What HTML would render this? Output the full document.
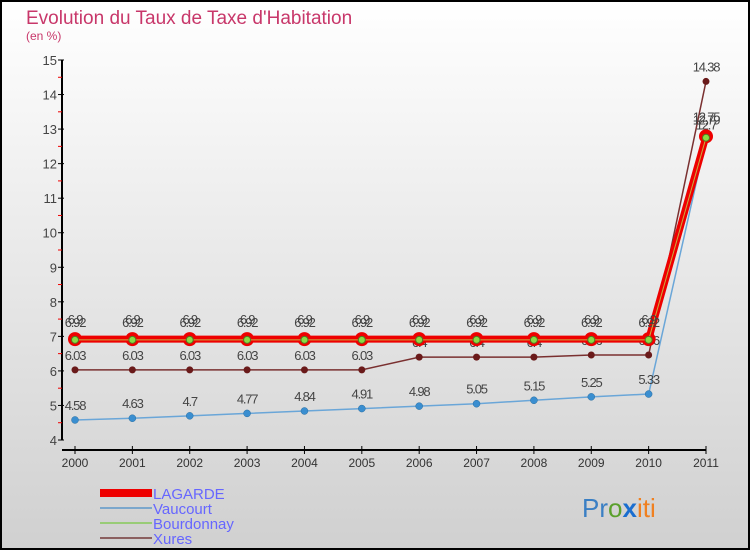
<!DOCTYPE html>
<html><head><meta charset="utf-8"><style>
body{margin:0;}
svg{display:block;font-family:"Liberation Sans",sans-serif;}
</style></head><body>
<svg id="c" width="750" height="550">
<defs><linearGradient id="bg" x1="0" y1="0" x2="0" y2="1"><stop offset="0" stop-color="#ffffff"/><stop offset="1" stop-color="#d0d0d0"/></linearGradient></defs>
<rect x="1" y="1" width="748" height="548" fill="url(#bg)" stroke="#000" stroke-width="2"/>
<text x="26" y="24" font-size="19" fill="#c8376a">Evolution du Taux de Taxe d'Habitation</text>
<text x="26" y="40" font-size="12" fill="#c8376a">(en %)</text>
<g id="axes"></g><g id="series"></g>
<g>
<rect x="100" y="489" width="52" height="8" fill="#e00"/>
<text x="153" y="499" font-size="15" fill="#6666ff">LAGARDE</text>
<line x1="100" y1="508" x2="152" y2="508" stroke="#7ba7cc" stroke-width="2"/>
<text x="153" y="514" font-size="15" fill="#6666ff">Vaucourt</text>
<line x1="100" y1="523" x2="152" y2="523" stroke="#99cc77" stroke-width="2"/>
<text x="153" y="529" font-size="15" fill="#6666ff">Bourdonnay</text>
<line x1="100" y1="538" x2="152" y2="538" stroke="#8b6060" stroke-width="2"/>
<text x="153" y="544" font-size="15" fill="#6666ff">Xures</text>
</g>
<text x="582" y="517" font-size="26"><tspan fill="#3a7fc4">Pr</tspan><tspan fill="#5aa02c">o</tspan><tspan fill="#1a6ed0" font-weight="bold">x</tspan><tspan fill="#f08020">iti</tspan></text>
</svg>
<script>
const years=[2000,2001,2002,2003,2004,2005,2006,2007,2008,2009,2010,2011];
const yTicks=[4,5,6,7,8,9,10,11,12,13,14,15];
const lagarde=[6.92,6.92,6.92,6.92,6.92,6.92,6.92,6.92,6.92,6.92,6.92,12.79];
const vaucourt=[4.58,4.63,4.7,4.77,4.84,4.91,4.98,5.05,5.15,5.25,5.33,12.7];
const bourdonnay=[6.9,6.9,6.9,6.9,6.9,6.9,6.9,6.9,6.9,6.9,6.9,12.75];
const xures=[6.03,6.03,6.03,6.03,6.03,6.03,6.4,6.4,6.4,6.46,6.46,14.38];
const NS="http://www.w3.org/2000/svg";
const X=i=>75+i*(706-75)/11;
const Y=v=>440-(v-4)*(380/11);
function mk(p,t,a){const e=document.createElementNS(NS,t);for(const k in a)e.setAttribute(k,a[k]);p.appendChild(e);return e;}
const ax=document.getElementById('axes');
let l=mk(ax,'line',{x1:62,y1:60,x2:62,y2:440,stroke:'#000','stroke-width':2});


l=mk(ax,'line',{x1:62,y1:450,x2:706,y2:450,stroke:'#000','stroke-width':2});


yTicks.forEach(v=>{
 mk(ax,'line',{x1:58,y1:Y(v),x2:64,y2:Y(v),stroke:'#000'});
 if(v<15)mk(ax,'line',{x1:58,y1:Y(v+0.5),x2:62,y2:Y(v+0.5),stroke:'#e00'});
 const t=mk(ax,'text',{x:57,y:Y(v)+5,'font-size':13,'text-anchor':'end',fill:'#444'});
 t.textContent=v;
 
 
});
years.forEach((y,i)=>{
 mk(ax,'line',{x1:X(i),y1:446,x2:X(i),y2:454,stroke:'#000'});
 const t=mk(ax,'text',{x:X(i),y:467,'font-size':12,'text-anchor':'middle',fill:'#333'});
 t.textContent=y;
 
 
});
const sg=document.getElementById('series');
function series(name,vals,lc,lw,dot,dr,dstroke,dsw,lblDy){
 const g=mk(sg,'g',{});
 
 
 const pl=mk(g,'polyline',{points:vals.map((v,i)=>X(i)+','+Y(v)).join(' '),fill:'none',stroke:lc,'stroke-width':lw});
 
 
 vals.forEach((v,i)=>{
  const c=mk(g,'circle',{cx:X(i),cy:Y(v),r:dr,fill:dot,stroke:dstroke,'stroke-width':dsw});
  
  
  const t=mk(g,'text',{x:X(i),y:Y(v)+lblDy,'font-size':13,'text-anchor':'middle',fill:'#444','letter-spacing':'-1.2'});
  t.textContent=v;
  
  
 });
}
series('vaucourt',vaucourt,'#6aa6d8',1.5,'#3a8ed0',3.5,'#2a6ea0',0.5,-10);
series('xures',xures,'#7a3030',1.5,'#6a1a1a',3.5,'none',0,-10);
series('lagarde',lagarde,'#e00',7,'#e00',7,'none',0,-12);
series('bourdonnay',bourdonnay,'#c8b040',1,'#88dd44',3.5,'#557722',1,-16);
</script>
</body></html>
